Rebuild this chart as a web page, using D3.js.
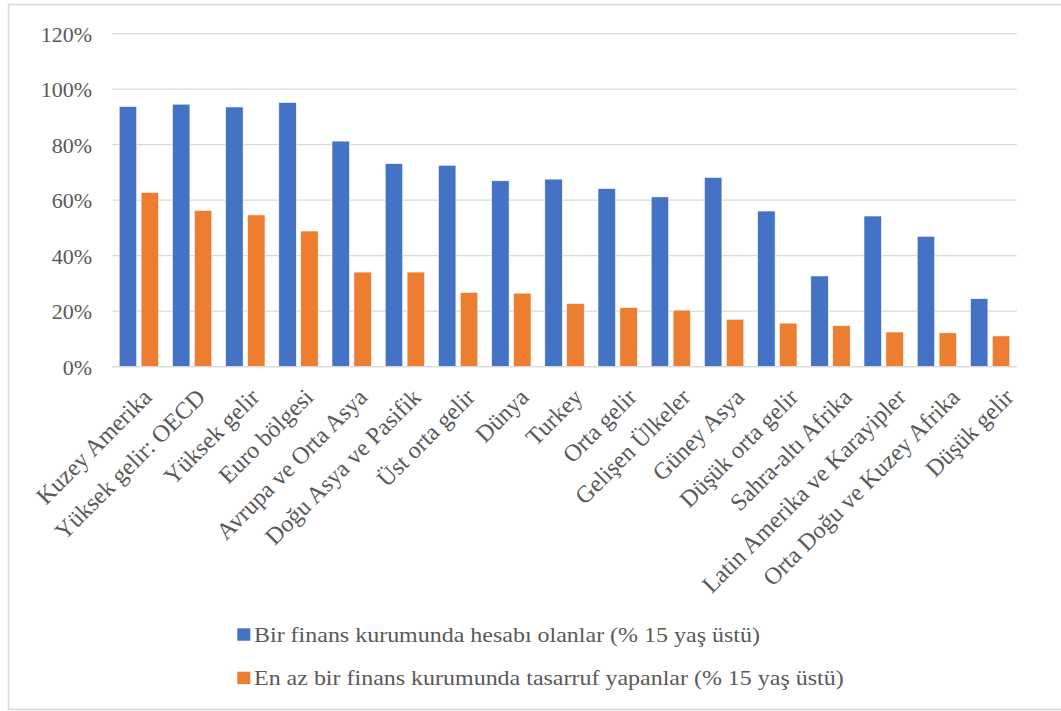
<!DOCTYPE html>
<html>
<head>
<meta charset="utf-8">
<script src="https://cdn.jsdelivr.net/npm/d3@7"></script>
<style>
  html, body { margin: 0; padding: 0; background: #fff; }
  svg { display: block; }
</style>
</head>
<body>
<svg id="chart" width="1061" height="711"></svg>
<script>
const categories = [
  "Kuzey Amerika", "Yüksek gelir: OECD", "Yüksek gelir", "Euro bölgesi",
  "Avrupa ve Orta Asya", "Doğu Asya ve Pasifik", "Üst orta gelir", "Dünya",
  "Turkey", "Orta gelir", "Gelişen Ülkeler", "Güney Asya", "Düşük orta gelir",
  "Sahra-altı Afrika", "Latin Amerika ve Karayipler", "Orta Doğu ve Kuzey Afrika", "Düşük gelir"
];
const accountValues = [93.8, 94.6, 93.6, 95.2, 81.3, 73.2, 72.6, 67.0, 67.6, 64.2, 61.2, 68.2, 56.1, 32.7, 54.3, 47.0, 24.5];
const savingValues  = [62.8, 56.3, 54.7, 48.9, 34.1, 34.1, 26.8, 26.5, 22.8, 21.3, 20.4, 17.1, 15.7, 14.8, 12.5, 12.2, 11.1];
const seriesNames = [
  "Bir finans kurumunda hesabı olanlar (% 15 yaş üstü)",
  "En az bir finans kurumunda tasarruf yapanlar (% 15 yaş üstü)"
];
const seriesColors = ["#4472C4", "#ED7D31"];
const yTicks = [0, 20, 40, 60, 80, 100, 120];

const FONT = "'Liberation Serif', Tinos, 'DejaVu Serif', serif";
const TXT = "#595959";

const svg = d3.select("#chart");

// outer chart border
svg.append("rect")
  .attr("x", 8.5).attr("y", 4.5).attr("width", 1060).attr("height", 705)
  .attr("fill", "none").attr("stroke", "#D9D9D9").attr("stroke-width", 1.5);

const plot = { left: 112.3, right: 1016.7, top: 33.7, bottom: 366.7 };

const x = d3.scaleBand().domain(categories).range([plot.left, plot.right]).padding(0);
const xInner = d3.scaleBand().domain([0, 1]).range([0, x.bandwidth()])
  .paddingInner(0.2).paddingOuter(0.315);
const y = d3.scaleLinear().domain([0, 120]).range([plot.bottom, plot.top]);

// gridlines
svg.append("g")
  .selectAll("line").data(yTicks).join("line")
  .attr("x1", plot.left).attr("x2", plot.right)
  .attr("y1", d => y(d)).attr("y2", d => y(d))
  .attr("stroke", "#D9D9D9").attr("stroke-width", 1.3);

// y axis labels
const yAxis = d3.axisLeft(y).tickValues(yTicks).tickFormat(d => d + "%").tickSize(0).tickPadding(0);
const yg = svg.append("g").attr("transform", `translate(${92},0)`).call(yAxis);
yg.attr("font-family", FONT).attr("font-size", 22);
yg.select(".domain").remove();
yg.selectAll("text")
  .attr("font-family", FONT)
  .attr("font-size", 22)
  .attr("fill", TXT)
  .attr("dy", "0.34em");

// bars
const rows = categories.map((c, i) => ({ cat: c, vals: [accountValues[i], savingValues[i]] }));
const groups = svg.append("g").selectAll("g").data(rows).join("g")
  .attr("transform", d => `translate(${x(d.cat)},0)`);
groups.selectAll("rect").data(d => d.vals.map((v, k) => ({ v, k }))).join("rect")
  .attr("x", d => xInner(d.k))
  .attr("width", xInner.bandwidth())
  .attr("y", d => y(d.v))
  .attr("height", d => y(0) - y(d.v))
  .attr("fill", d => seriesColors[d.k])
  .attr("stroke", "#ffffff").attr("stroke-width", 0.6);

// baseline
svg.append("line")
  .attr("x1", plot.left).attr("x2", plot.right)
  .attr("y1", y(0)).attr("y2", y(0))
  .attr("stroke", "#D9D9D9").attr("stroke-width", 1.3);

// x labels
const xl = d3.scalePoint().domain(categories).range([153, 1015]);
svg.append("g").selectAll("text").data(categories).join("text")
  .attr("transform", d => `translate(${xl(d)},${y(0) + 32}) rotate(-45)`)
  .attr("text-anchor", "end")
  .attr("font-family", FONT)
  .attr("font-size", 24)
  .attr("fill", TXT)
  .text(d => d);

// legend
const lg = svg.append("g").selectAll("g").data(seriesNames).join("g")
  .attr("transform", (d, i) => `translate(237.3,${628.3 + i * 43.4})`);
lg.append("rect").attr("width", 13).attr("height", 12.4).attr("fill", (d, i) => seriesColors[i]);
lg.append("text")
  .attr("transform", "translate(16.7,13.4) scale(1.09,1)")
  .attr("font-family", FONT).attr("font-size", 22).attr("fill", TXT)
  .text(d => d);
</script>
</body>
</html>
